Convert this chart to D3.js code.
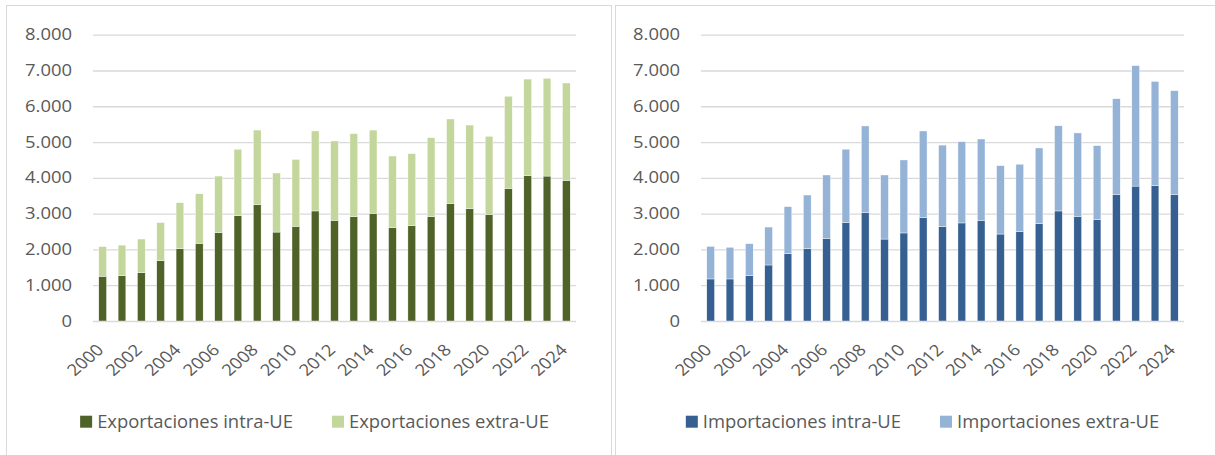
<!DOCTYPE html>
<html>
<head>
<meta charset="utf-8">
<script src="https://cdn.jsdelivr.net/npm/d3@7"></script>
<style>
  body { margin: 0; background: #fff; }
  svg text { font-family: "Open Sans", Lato, sans-serif; fill: #595959; }
</style>
</head>
<body>
<svg id="chart" width="1215" height="455"></svg>
<script>
// data (millones de euros)
const years = ["2000","2001","2002","2003","2004","2005","2006","2007","2008","2009","2010","2011","2012",
  "2013","2014","2015","2016","2017","2018","2019","2020","2021","2022","2023","2024"];
const yearLabels = ["2000","2002","2004","2006","2008","2010","2012","2014","2016","2018","2020","2022","2024"];
const yTicks = [0, 1000, 2000, 3000, 4000, 5000, 6000, 7000, 8000];

const expIntra = [1250,1265,1350,1685,2020,2170,2470,2940,3250,2485,2645,3075,2815,
  2915,3010,2610,2665,2915,3280,3140,2980,3705,4060,4050,3930];
const expExtra = [830,855,940,1065,1285,1385,1580,1860,2085,1650,1870,2235,2215,
  2320,2325,2000,2010,2205,2365,2335,2180,2575,2700,2730,2720];

const impIntra = [1175,1175,1265,1565,1880,2020,2310,2755,3025,2290,2460,2885,2635,
  2740,2815,2430,2495,2720,3075,2925,2830,3540,3770,3780,3540];
const impExtra = [910,885,895,1060,1315,1500,1770,2045,2425,1790,2040,2425,2280,
  2270,2270,1910,1885,2115,2380,2330,2070,2670,3365,2915,2895];

const svg = d3.select("#chart");

const locale = d3.formatLocale({ decimal: ",", thousands: ".", grouping: [3], currency: ["", "€"] });
const fmt = locale.format(",d");

// the reference text is a little wider than Open Sans, so measure and stretch
function textWidth(str, size) {
  const t = svg.append("text").attr("font-size", size).text(str);
  const w = t.node().getComputedTextLength();
  t.remove();
  return w;
}
const tickSize = 16;
const tickStretch = 47 / textWidth("8.000", tickSize);
const legendSize = 18.5;
const legendStretch = 196 / textWidth("Exportaciones intra-UE", legendSize);

// panel frames
svg.append("rect").attr("x", 6.5).attr("y", 5.5).attr("width", 605).attr("height", 470)
  .attr("fill", "none").attr("stroke", "#d9d9d9");
svg.append("rect").attr("x", 615.5).attr("y", 5.5).attr("width", 620).attr("height", 470)
  .attr("fill", "none").attr("stroke", "#d9d9d9");

function drawPanel(left, names, intra, extra, colors) {
  const top = 34.7, bottom = 321, plotW = 483;

  const x = d3.scaleBand().domain(years).range([0, plotW]).paddingInner(0.6).paddingOuter(0.3);
  const y = d3.scaleLinear().domain([0, 8000]).range([bottom - top, 0]);

  const g = svg.append("g").attr("transform", `translate(${left},${top})`);

  // grid + y labels
  const yAxis = d3.axisLeft(y).tickValues(yTicks).tickSize(-plotW).tickPadding(0).tickFormat(fmt);
  const ya = g.append("g").call(yAxis);
  ya.select(".domain").remove();
  ya.selectAll("line").attr("stroke", "#d9d9d9").attr("stroke-width", 1.3);
  ya.selectAll("text")
    .attr("font-size", tickSize)
    .attr("x", -21 / tickStretch)
    .attr("transform", `scale(${tickStretch},1)`);

  // stacked bars
  const rows = years.map((yr, i) => ({ year: yr, intra: intra[i], extra: extra[i] }));
  const stacked = d3.stack().keys(["intra", "extra"])(rows);

  g.selectAll(".series")
    .data(stacked)
    .enter()
    .append("g")
    .attr("fill", (d, i) => colors[i])
    .selectAll("rect")
    .data(d => d)
    .enter()
    .append("rect")
    .attr("x", d => x(d.data.year))
    .attr("y", d => y(d[1]))
    .attr("width", x.bandwidth())
    .attr("height", d => y(d[0]) - y(d[1]))
    .attr("stroke", "#fff")
    .attr("stroke-width", 0.4);

  // x labels
  const xAxis = d3.axisBottom(x).tickValues(yearLabels).tickSize(0).tickPadding(0);
  const xa = g.append("g").attr("transform", `translate(0,${bottom - top})`).call(xAxis);
  xa.select(".domain").remove();
  xa.selectAll("text")
    .attr("font-size", tickSize)
    .attr("text-anchor", "end")
    .attr("y", 0)
    .attr("dy", 0)
    .attr("transform", `translate(2,30) scale(${tickStretch},1) rotate(-45)`);

  // legend
  const lg = svg.append("g");
  const items = lg.selectAll("g").data(names).enter().append("g");
  items.append("rect").attr("width", 12).attr("height", 12).attr("y", -12)
    .attr("fill", (d, i) => colors[i]);
  items.append("text")
    .attr("font-size", legendSize)
    .attr("transform", `translate(17,0) scale(${legendStretch},1)`)
    .text(d => d);
  let pos = 0;
  items.each(function () {
    d3.select(this).attr("transform", `translate(${pos},0)`);
    pos += 17 + d3.select(this).select("text").node().getComputedTextLength() * legendStretch + 39;
  });
  const total = pos - 39;
  const cx = left + plotW / 2 - 20;
  lg.attr("transform", `translate(${cx - total / 2},427.7)`);
}

drawPanel(93, ["Exportaciones intra-UE", "Exportaciones extra-UE"], expIntra, expExtra, ["#4f6228", "#c3d69b"]);
drawPanel(701, ["Importaciones intra-UE", "Importaciones extra-UE"], impIntra, impExtra, ["#376092", "#95b3d7"]);
</script>
</body>
</html>
